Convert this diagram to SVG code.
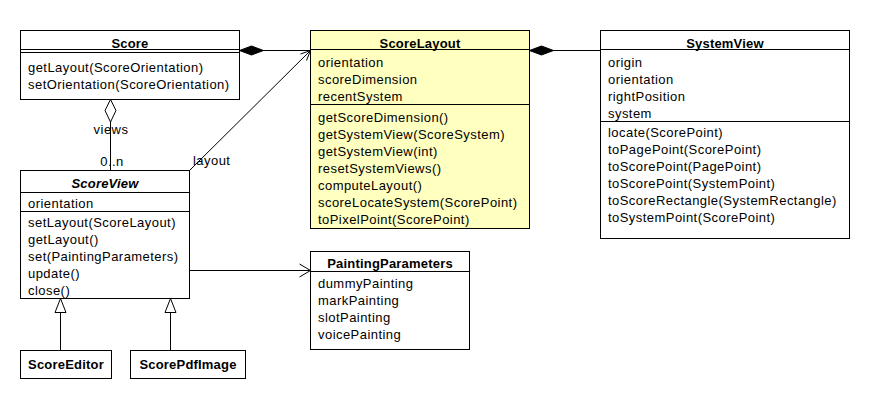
<svg xmlns="http://www.w3.org/2000/svg" width="870" height="400" viewBox="0 0 870 400">
<style>
text{font-family:"Liberation Sans",Arial,sans-serif;font-size:13px;letter-spacing:0.45px;fill:#000}
.t{font-weight:bold;text-anchor:middle;letter-spacing:0.2px}
.ti{font-weight:bold;font-style:italic;text-anchor:middle;letter-spacing:0.2px}
.box{fill:#fff;stroke:#000;stroke-width:1}
.ybox{fill:#ffffc0;stroke:#000;stroke-width:1}
.ln{stroke:#000;stroke-width:1;fill:none}
</style>
<rect width="870" height="400" fill="#fff"/>
<g id="connectors">
  <line class="ln" x1="239.5" y1="50.5" x2="310.5" y2="50.5"/>
  <polygon points="239.5,50.5 251.5,46 263.5,50.5 251.5,55" fill="#000" stroke="#000"/>
  <line class="ln" x1="529.5" y1="50.5" x2="600.5" y2="50.5"/>
  <polygon points="529.5,50.5 541.5,46 553.5,50.5 541.5,55" fill="#000" stroke="#000"/>
  <line class="ln" x1="189.5" y1="170.5" x2="310.5" y2="50.5"/>
  <polyline class="ln" points="300.5,54 310.5,50.5 306.5,60.5"/>
  <line class="ln" x1="110.5" y1="122" x2="110.5" y2="170.5"/>
  <polygon points="110.5,99.5 116,110.5 110.5,122 105,110.5" fill="#fff" stroke="#000"/>
  <text x="111" y="134" text-anchor="middle">views</text>
  <text x="112" y="166" text-anchor="middle">0..n</text>
  <text x="193" y="165">layout</text>
  <line class="ln" x1="189.5" y1="270.5" x2="310.5" y2="270.5"/>
  <polyline class="ln" points="299.5,264 310.5,270.5 299.5,277"/>
  <line class="ln" x1="60.5" y1="312.5" x2="60.5" y2="350.5"/>
  <polygon points="60.5,298.5 66,312.5 55,312.5" fill="#fff" stroke="#000"/>
  <line class="ln" x1="170.5" y1="312.5" x2="170.5" y2="350.5"/>
  <polygon points="170.5,298.5 176,312.5 165,312.5" fill="#fff" stroke="#000"/>
</g>
<g id="Score">
  <rect class="box" x="20.5" y="30.5" width="219" height="69"/>
  <text class="t" x="130" y="48">Score</text>
  <line class="ln" x1="20.5" y1="49.5" x2="239.5" y2="49.5"/>
  <line class="ln" x1="20.5" y1="52.5" x2="239.5" y2="52.5"/>
  <text x="28" y="72">getLayout(ScoreOrientation)</text>
  <text x="28" y="89">setOrientation(ScoreOrientation)</text>
</g>
<g id="ScoreLayout">
  <rect class="ybox" x="310.5" y="30.5" width="219" height="198"/>
  <text class="t" x="420" y="48">ScoreLayout</text>
  <line class="ln" x1="310.5" y1="49.5" x2="529.5" y2="49.5"/>
  <text x="318" y="67">orientation</text>
  <text x="318" y="84">scoreDimension</text>
  <text x="318" y="101">recentSystem</text>
  <line class="ln" x1="310.5" y1="104.5" x2="529.5" y2="104.5"/>
  <text x="318" y="122">getScoreDimension()</text>
  <text x="318" y="139">getSystemView(ScoreSystem)</text>
  <text x="318" y="156">getSystemView(int)</text>
  <text x="318" y="173">resetSystemViews()</text>
  <text x="318" y="190">computeLayout()</text>
  <text x="318" y="207">scoreLocateSystem(ScorePoint)</text>
  <text x="318" y="224">toPixelPoint(ScorePoint)</text>
</g>
<g id="SystemView">
  <rect class="box" x="600.5" y="30.5" width="249" height="208"/>
  <text class="t" x="725" y="48">SystemView</text>
  <line class="ln" x1="600.5" y1="49.5" x2="849.5" y2="49.5"/>
  <text x="608" y="67">origin</text>
  <text x="608" y="84">orientation</text>
  <text x="608" y="101">rightPosition</text>
  <text x="608" y="118">system</text>
  <line class="ln" x1="600.5" y1="121.5" x2="849.5" y2="121.5"/>
  <text x="608" y="137">locate(ScorePoint)</text>
  <text x="608" y="154">toPagePoint(ScorePoint)</text>
  <text x="608" y="171">toScorePoint(PagePoint)</text>
  <text x="608" y="188">toScorePoint(SystemPoint)</text>
  <text x="608" y="205">toScoreRectangle(SystemRectangle)</text>
  <text x="608" y="222">toSystemPoint(ScorePoint)</text>
</g>
<g id="ScoreView">
  <rect class="box" x="20.5" y="170.5" width="169" height="128"/>
  <text class="ti" x="105" y="188">ScoreView</text>
  <line class="ln" x1="20.5" y1="192.5" x2="189.5" y2="192.5"/>
  <text x="28" y="208">orientation</text>
  <line class="ln" x1="20.5" y1="211.5" x2="189.5" y2="211.5"/>
  <text x="28" y="227">setLayout(ScoreLayout)</text>
  <text x="28" y="244">getLayout()</text>
  <text x="28" y="261">set(PaintingParameters)</text>
  <text x="28" y="278">update()</text>
  <text x="28" y="295">close()</text>
</g>
<g id="PaintingParameters">
  <rect class="box" x="310.5" y="251.5" width="159" height="98"/>
  <text class="t" x="390" y="268">PaintingParameters</text>
  <line class="ln" x1="310.5" y1="271.5" x2="469.5" y2="271.5"/>
  <text x="318" y="288">dummyPainting</text>
  <text x="318" y="305">markPainting</text>
  <text x="318" y="322">slotPainting</text>
  <text x="318" y="339">voicePainting</text>
</g>
<g id="ScoreEditor">
  <rect class="box" x="20.5" y="350.5" width="91" height="28"/>
  <text class="t" x="66" y="369">ScoreEditor</text>
</g>
<g id="ScorePdfImage">
  <rect class="box" x="130.5" y="350.5" width="115" height="28"/>
  <text class="t" x="188" y="369">ScorePdfImage</text>
</g>
</svg>
